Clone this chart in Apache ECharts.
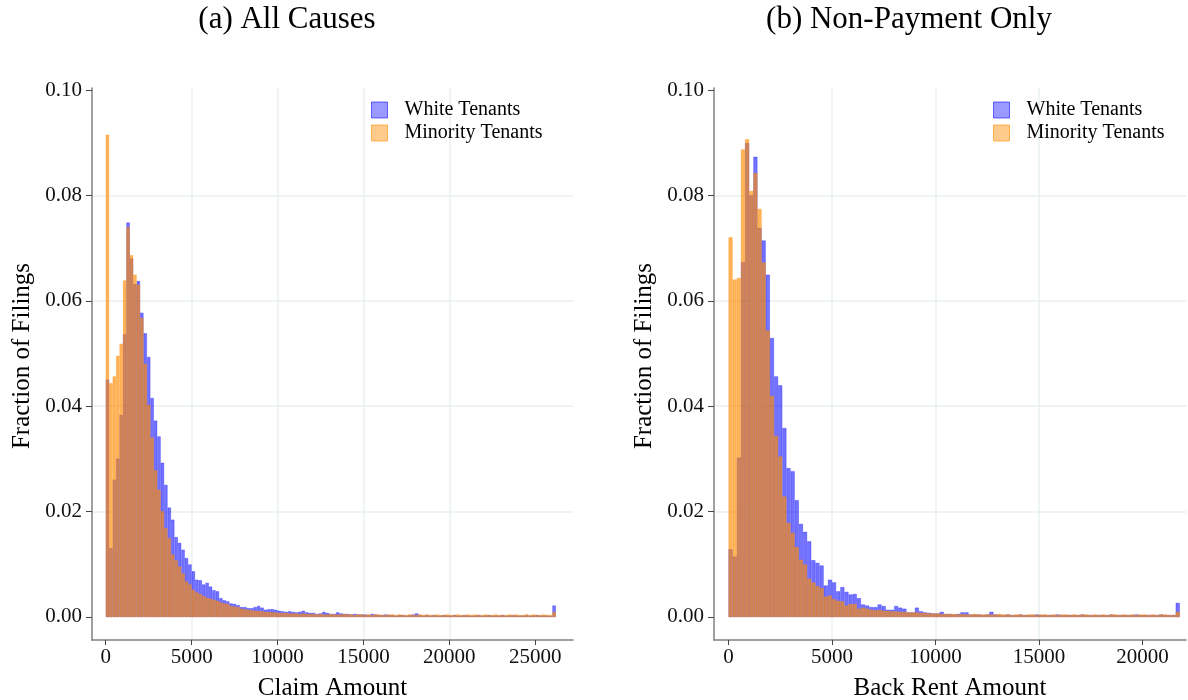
<!DOCTYPE html>
<html><head><meta charset="utf-8">
<script src="https://cdn.jsdelivr.net/npm/echarts@6/dist/echarts.min.js"></script>
<style>html,body{margin:0;padding:0;background:#fff}#chart{width:1188px;height:700px}</style>
</head><body><div id="chart"></div>
<script>
// ---------- data ----------
const binWidth = 200;
const seriesNames = ['White Tenants', 'Minority Tenants'];
const panelTitles = ['(a) All Causes', '(b) Non-Payment Only'];
const xAxisNames = ['Claim Amount', 'Back Rent Amount'];
const yAxisName = 'Fraction of Filings';
const xTicksA = [0, 5000, 10000, 15000, 20000, 25000];
const xTicksB = [0, 5000, 10000, 15000, 20000];
const yTicks = [0, 0.02, 0.04, 0.06, 0.08, 0.10];

const whiteA = [
 0.0450,0.0130,0.0260,0.0300,0.0383,0.0536,0.0748,0.0680,0.0631,0.0637,
 0.0577,0.0538,0.0493,0.0415,0.0372,0.0342,0.0292,0.0250,0.0207,0.0184,
 0.0151,0.0140,0.0127,0.0111,0.0099,0.0086,0.0070,0.0069,0.0061,0.0064,
 0.0057,0.0050,0.0048,0.0035,0.0031,0.0029,0.0025,0.0024,0.0022,0.0018,
 0.0018,0.0016,0.0016,0.0018,0.0020,0.0017,0.0013,0.0014,0.0014,0.0013,
 0.0011,0.0010,0.0009,0.0010,0.0009,0.0008,0.0009,0.0011,0.0008,0.0007,
 0.0007,0.0005,0.0006,0.0009,0.0007,0.0005,0.0005,0.0008,0.0006,0.0005,
 0.0005,0.0004,0.0005,0.0004,0.0004,0.0004,0.0003,0.0005,0.0004,0.0003,
 0.0003,0.0004,0.0003,0.0003,0.0002,0.0003,0.0003,0.0002,0.0003,0.0004,
 0.0006,0.0003,0.0002,0.0003,0.0002,0.0003,0.0002,0.0002,0.0003,0.0002,
 0.0002,0.0003,0.0002,0.0002,0.0003,0.0002,0.0002,0.0002,0.0003,0.0002,
 0.0002,0.0003,0.0002,0.0002,0.0002,0.0003,0.0002,0.0002,0.0003,0.0002,
 0.0002,0.0002,0.0003,0.0002,0.0002,0.0003,0.0002,0.0002,0.0002,0.0001,
 0.0021
];
const minorityA = [
 0.0915,0.0443,0.0456,0.0495,0.0518,0.0638,0.0739,0.0686,0.0649,0.0630,
 0.0567,0.0480,0.0402,0.0340,0.0278,0.0241,0.0200,0.0168,0.0149,0.0118,
 0.0107,0.0095,0.0082,0.0067,0.0061,0.0051,0.0046,0.0043,0.0039,0.0036,
 0.0034,0.0032,0.0030,0.0027,0.0025,0.0024,0.0020,0.0019,0.0018,0.0015,
 0.0014,0.0013,0.0012,0.0011,0.0011,0.0010,0.0009,0.0009,0.0008,0.0008,
 0.0007,0.0007,0.0007,0.0006,0.0006,0.0006,0.0005,0.0006,0.0005,0.0005,
 0.0005,0.0004,0.0005,0.0004,0.0004,0.0005,0.0004,0.0004,0.0004,0.0005,
 0.0004,0.0004,0.0003,0.0004,0.0004,0.0003,0.0004,0.0003,0.0004,0.0004,
 0.0003,0.0003,0.0004,0.0004,0.0003,0.0004,0.0003,0.0003,0.0004,0.0003,
 0.0003,0.0004,0.0003,0.0004,0.0003,0.0003,0.0004,0.0003,0.0003,0.0004,
 0.0003,0.0003,0.0004,0.0003,0.0003,0.0004,0.0003,0.0004,0.0003,0.0003,
 0.0004,0.0003,0.0003,0.0004,0.0003,0.0003,0.0003,0.0004,0.0003,0.0004,
 0.0003,0.0003,0.0004,0.0003,0.0004,0.0003,0.0003,0.0004,0.0003,0.0003,
 0.0009
];
const whiteB = [
 0.0128,0.0114,0.0302,0.0673,0.0899,0.0800,0.0873,0.0738,0.0714,0.0649,
 0.0529,0.0456,0.0439,0.0358,0.0282,0.0276,0.0221,0.0176,0.0161,0.0143,
 0.0107,0.0102,0.0097,0.0059,0.0070,0.0065,0.0048,0.0056,0.0047,0.0042,
 0.0043,0.0035,0.0023,0.0021,0.0018,0.0018,0.0023,0.0020,0.0013,0.0013,
 0.0020,0.0017,0.0015,0.0008,0.0008,0.0017,0.0010,0.0008,0.0007,0.0006,
 0.0006,0.0009,0.0005,0.0005,0.0004,0.0005,0.0008,0.0008,0.0004,0.0004,
 0.0004,0.0003,0.0004,0.0009,0.0004,0.0003,0.0003,0.0004,0.0003,0.0003,
 0.0004,0.0003,0.0003,0.0003,0.0004,0.0003,0.0003,0.0003,0.0003,0.0004,
 0.0003,0.0003,0.0003,0.0003,0.0003,0.0004,0.0003,0.0003,0.0003,0.0003,
 0.0003,0.0003,0.0004,0.0003,0.0003,0.0003,0.0003,0.0003,0.0004,0.0003,
 0.0003,0.0003,0.0003,0.0003,0.0004,0.0003,0.0003,0.0003,0.0026
];
const minorityB = [
 0.0720,0.0640,0.0643,0.0887,0.0906,0.0808,0.0842,0.0774,0.0672,0.0543,
 0.0419,0.0343,0.0304,0.0228,0.0178,0.0159,0.0132,0.0108,0.0099,0.0072,
 0.0065,0.0058,0.0054,0.0038,0.0040,0.0033,0.0030,0.0029,0.0021,0.0024,
 0.0024,0.0015,0.0017,0.0015,0.0013,0.0012,0.0013,0.0011,0.0011,0.0010,
 0.0010,0.0009,0.0009,0.0008,0.0008,0.0008,0.0007,0.0007,0.0006,0.0006,
 0.0006,0.0005,0.0005,0.0005,0.0005,0.0004,0.0005,0.0004,0.0004,0.0005,
 0.0004,0.0004,0.0004,0.0004,0.0004,0.0005,0.0004,0.0004,0.0003,0.0004,
 0.0004,0.0003,0.0004,0.0004,0.0003,0.0004,0.0004,0.0003,0.0004,0.0003,
 0.0004,0.0004,0.0003,0.0004,0.0003,0.0004,0.0004,0.0003,0.0004,0.0003,
 0.0004,0.0003,0.0004,0.0004,0.0003,0.0004,0.0003,0.0004,0.0003,0.0004,
 0.0004,0.0003,0.0004,0.0003,0.0004,0.0004,0.0003,0.0003,0.0009
];

// ---------- styling ----------
const FONT = 'Liberation Serif';
const BLUE_FILL = 'rgba(0,0,255,0.55)', BLUE_STROKE = 'rgba(0,0,255,0.35)';
const ORANGE_FILL = 'rgba(255,140,0,0.65)', ORANGE_STROKE = 'rgba(255,140,0,0.4)';
const GRID_COLOR = '#E9EFF1';

function toBins(arr) { return arr.map((v, i) => [i * binWidth, (i + 1) * binWidth, v]); }

function makeRender(fill, stroke) {
  return function (params, api) {
    const p0 = api.coord([api.value(0), api.value(2)]);
    const p1 = api.coord([api.value(1), 0]);
    return {
      type: 'rect',
      shape: { x: p0[0] + 0.3, y: p0[1], width: p1[0] - p0[0] - 0.6, height: p1[1] - p0[1] },
      style: { fill: fill, stroke: stroke, lineWidth: 0.8 }
    };
  };
}

function xAxisCfg(gi, min, max, ticks, name) {
  return {
    type: 'value', gridIndex: gi, min: min, max: max,
    name: name, nameLocation: 'middle', nameGap: 36,
    nameTextStyle: { fontFamily: FONT, fontSize: 25, color: '#000' },
    axisLine: { show: true, onZero: false, lineStyle: { color: '#808080', width: 1.5 } },
    axisTick: { show: true, length: 5, customValues: ticks, lineStyle: { color: '#444', width: 1 } },
    axisLabel: { customValues: ticks, margin: 7, fontFamily: FONT, fontSize: 21, color: '#111',
                 formatter: v => String(v) },
    splitLine: { show: true, showMinLine: false, showMaxLine: false, lineStyle: { color: GRID_COLOR, width: 1.5 } }
  };
}
function yAxisCfg(gi) {
  return {
    type: 'value', gridIndex: gi, min: -0.0044, max: 0.1004,
    name: yAxisName, nameLocation: 'middle', nameGap: 57, nameRotate: 90,
    nameTextStyle: { fontFamily: FONT, fontSize: 25, color: '#000', padding: [0, 0, 0, 16] },
    axisLine: { show: true, onZero: false, lineStyle: { color: '#808080', width: 1.5 } },
    axisTick: { show: true, length: 6, customValues: yTicks, lineStyle: { color: '#444', width: 1 } },
    axisLabel: { customValues: yTicks, margin: 10, fontFamily: FONT, fontSize: 21, color: '#111',
                 formatter: v => v.toFixed(2) },
    splitLine: { show: true, showMinLine: false, showMaxLine: false, lineStyle: { color: GRID_COLOR, width: 1.5 } }
  };
}
function legendCfg(left) {
  return {
    left: left, top: 100, orient: 'vertical', padding: 0, itemGap: 3,
    itemWidth: 16, itemHeight: 16, icon: 'rect',
    textStyle: { fontFamily: FONT, fontSize: 20, color: '#000', padding: [0, 0, 0, 12] },
    data: [
      { name: seriesNames[0], itemStyle: { color: 'rgba(0,0,255,0.4)', borderColor: 'rgba(0,0,255,0.55)', borderWidth: 1 } },
      { name: seriesNames[1], itemStyle: { color: 'rgba(255,140,0,0.45)', borderColor: 'rgba(255,140,0,0.6)', borderWidth: 1 } }
    ]
  };
}
function seriesCfg(name, arr, gi, fill, stroke) {
  return {
    type: 'custom', name: name, xAxisIndex: gi, yAxisIndex: gi,
    renderItem: makeRender(fill, stroke), clip: true,
    encode: { x: [0, 1], y: 2 }, data: toBins(arr),
    itemStyle: { color: fill }, animation: false, silent: true
  };
}

const chart = echarts.init(document.getElementById('chart'), null, { renderer: 'canvas' });
chart.setOption({
  backgroundColor: '#fff',
  animation: false,
  graphic: [
    { type: 'text', x: 287, y: 20, style: { text: panelTitles[0], fontFamily: FONT, fontSize: 31, fill: '#000', textAlign: 'center', textVerticalAlign: 'middle' } },
    { type: 'text', x: 909, y: 20, style: { text: panelTitles[1], fontFamily: FONT, fontSize: 31, fill: '#000', textAlign: 'center', textVerticalAlign: 'middle' } }
  ],
  legend: [legendCfg(371), legendCfg(993)],
  grid: [
    { left: 92, top: 88, width: 481, height: 552, containLabel: false, outerBoundsMode: 'none' },
    { left: 714, top: 88, width: 472, height: 552, containLabel: false, outerBoundsMode: 'none' }
  ],
  xAxis: [
    xAxisCfg(0, -800, 27200, xTicksA, xAxisNames[0]),
    xAxisCfg(1, -700, 22100, xTicksB, xAxisNames[1])
  ],
  yAxis: [yAxisCfg(0), yAxisCfg(1)],
  series: [
    seriesCfg(seriesNames[0], whiteA, 0, BLUE_FILL, BLUE_STROKE),
    seriesCfg(seriesNames[1], minorityA, 0, ORANGE_FILL, ORANGE_STROKE),
    seriesCfg(seriesNames[0], whiteB, 1, BLUE_FILL, BLUE_STROKE),
    seriesCfg(seriesNames[1], minorityB, 1, ORANGE_FILL, ORANGE_STROKE)
  ]
});
</script>
</body></html>
